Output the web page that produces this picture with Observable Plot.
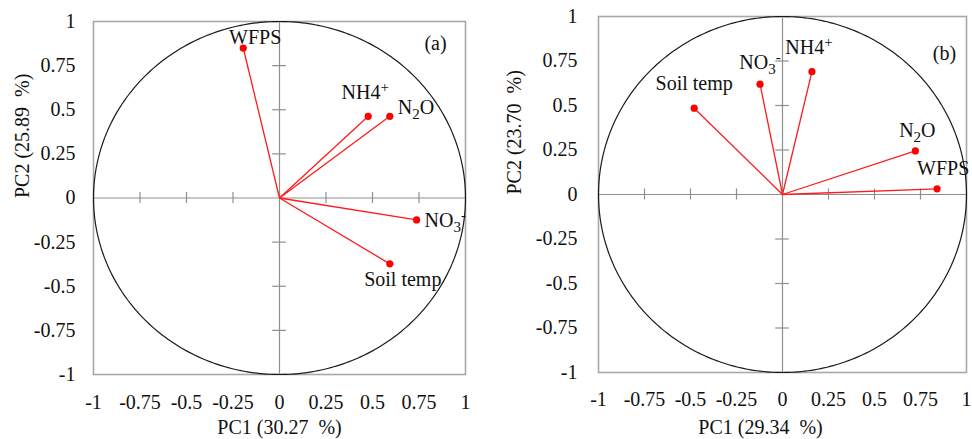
<!DOCTYPE html>
<html>
<head>
<meta charset="utf-8">
<script src="https://cdn.jsdelivr.net/npm/d3@7"></script>
<script src="https://cdn.jsdelivr.net/npm/@observablehq/plot@0.6"></script>
<style>
  html, body { margin: 0; padding: 0; background: #fff; }
  #wrap { display: flex; width: 972px; height: 439px; overflow: hidden; }
  #wrap svg { overflow: visible; }
</style>
</head>
<body>
<div id="wrap"></div>
<script>
// ---- data ----
const tickValues = [-1, -0.75, -0.5, -0.25, 0, 0.25, 0.5, 0.75, 1];
const innerTicks = [-0.75, -0.5, -0.25, 0.25, 0.5, 0.75];

const namesA = ["WFPS", "NH4^+", "N_2O", "NO_3^-", "Soil temp"];
const pc1A = [-0.195, 0.477, 0.593, 0.737, 0.593];
const pc2A = [0.85, 0.463, 0.463, -0.124, -0.373];
const titleXA = "PC1 (30.27\u00a0 %)";
const titleYA = "PC2 (25.89\u00a0 %)";

const namesB = ["Soil temp", "NO_3^-", "NH4^+", "N_2O", "WFPS"];
const pc1B = [-0.48, -0.122, 0.16, 0.722, 0.84];
const pc2B = [0.485, 0.62, 0.69, 0.245, 0.032];
const titleXB = "PC1 (29.34\u00a0 %)";
const titleYB = "PC2 (23.70\u00a0 %)";

// ---- layout (label offsets in px) ----
const layoutA = {
  tag: "(a)", tagDx: -30, tagDy: 22,
  margin: {left: 93, right: 21, top: 21, bottom: 65},
  xPad: 20, yPad: 18, xTitleDx: 0, yTitleDx: -71, xTitleDy: 53,
  labels: [
    {dx: 12, dy: -10, anchor: "middle"},
    {dx: -3, dy: -24, anchor: "middle"},
    {dx: 8, dy: -9, anchor: "start"},
    {dx: 8, dy: 1, anchor: "start"},
    {dx: 13, dy: 16, anchor: "middle"}
  ]
};
const layoutB = {
  tag: "(b)", tagDx: -22, tagDy: 37,
  margin: {left: 112, right: 6, top: 16, bottom: 67},
  xPad: 19, yPad: 21, xTitleDx: -22, yTitleDx: -84, xTitleDy: 55,
  labels: [
    {dx: 0, dy: -25, anchor: "middle"},
    {dx: 0, dy: -22, anchor: "middle"},
    {dx: -3, dy: -24, anchor: "middle"},
    {dx: 2, dy: -20, anchor: "middle"},
    {dx: -20, dy: -20, anchor: "start"}
  ]
};

const circle = d3.range(0, 361, 1).map(a => ({x: Math.cos(a * Math.PI / 180), y: Math.sin(a * Math.PI / 180)}));
const fmt = d => String(d);
const FS = 20;

function rich(node) {
  const s = node.textContent;
  if (!/[_^]/.test(s)) return;
  node.textContent = "";
  let shift = 0;
  const re = /([_^])(.)|([^_^]+)/g;
  let m;
  while ((m = re.exec(s))) {
    const t = document.createElementNS("http://www.w3.org/2000/svg", "tspan");
    const target = m[1] ? (m[1] === "_" ? 5 : -7) : 0;
    t.setAttribute("dy", target - shift);
    shift = target;
    if (m[1]) t.setAttribute("font-size", "15px");
    t.textContent = m[1] ? m[2] : m[3];
    node.appendChild(t);
  }
}

function panel(names, pc1, pc2, titleX, titleY, L) {
  const data = names.map((n, i) => ({name: n, x: pc1[i], y: pc2[i]}));
  const labelMarks = data.map((d, i) => Plot.text([d], {
    x: "x", y: "y", text: "name", dx: L.labels[i].dx, dy: L.labels[i].dy,
    textAnchor: L.labels[i].anchor, fontSize: FS, fill: "#111", className: "lbl"
  }));
  const svg = Plot.plot({
    width: 486,
    height: 439,
    marginLeft: L.margin.left, marginRight: L.margin.right,
    marginTop: L.margin.top, marginBottom: L.margin.bottom,
    style: {fontFamily: "'Liberation Serif', 'Times New Roman', serif", fontSize: FS + "px", background: "transparent", color: "#111"},
    x: {domain: [-1, 1], label: null},
    y: {domain: [-1, 1], label: null},
    marks: [
      Plot.ruleY([0], {stroke: "#8f8f8f", strokeWidth: 1.2}),
      Plot.ruleX([0], {stroke: "#8f8f8f", strokeWidth: 1.2}),
      Plot.ruleX(innerTicks, {x: d => d, y1: -0.031, y2: 0.031, stroke: "#8f8f8f", strokeWidth: 1.2}),
      Plot.ruleY(innerTicks, {y: d => d, x1: -0.037, x2: 0.037, stroke: "#8f8f8f", strokeWidth: 1.2}),
      Plot.frame({stroke: "#a8a8a8", strokeWidth: 1.6}),
      Plot.line(circle, {x: "x", y: "y", stroke: "#1a1a1a", strokeWidth: 1.2}),
      Plot.link(data, {x1: () => 0, y1: () => 0, x2: "x", y2: "y", stroke: "#ff1a1a", strokeWidth: 1.3}),
      Plot.dot(data, {x: "x", y: "y", r: 3.6, fill: "#ff0000"}),
      ...labelMarks,
      Plot.text([L.tag], {frameAnchor: "top-right", textAnchor: "middle", lineAnchor: "middle", dx: L.tagDx, dy: L.tagDy, fontSize: FS, fill: "#111"}),
      Plot.axisX({ticks: tickValues, tickSize: 0, tickPadding: L.xPad, tickFormat: fmt, label: null, fontSize: FS, fill: "#111"}),
      Plot.axisY({ticks: tickValues, tickSize: 0, tickPadding: L.yPad, tickFormat: fmt, label: null, fontSize: FS, fill: "#111"}),
      Plot.text([titleX], {frameAnchor: "bottom", lineAnchor: "middle", dx: L.xTitleDx, dy: L.xTitleDy, fontSize: FS, fill: "#111"}),
      Plot.text([titleY], {frameAnchor: "left", dx: L.yTitleDx, rotate: -90, fontSize: FS, fill: "#111"})
    ]
  });
  svg.querySelectorAll("g.lbl text").forEach(rich);
  return svg;
}

const wrap = document.getElementById("wrap");
wrap.appendChild(panel(namesA, pc1A, pc2A, titleXA, titleYA, layoutA));
wrap.appendChild(panel(namesB, pc1B, pc2B, titleXB, titleYB, layoutB));
</script>
</body>
</html>
